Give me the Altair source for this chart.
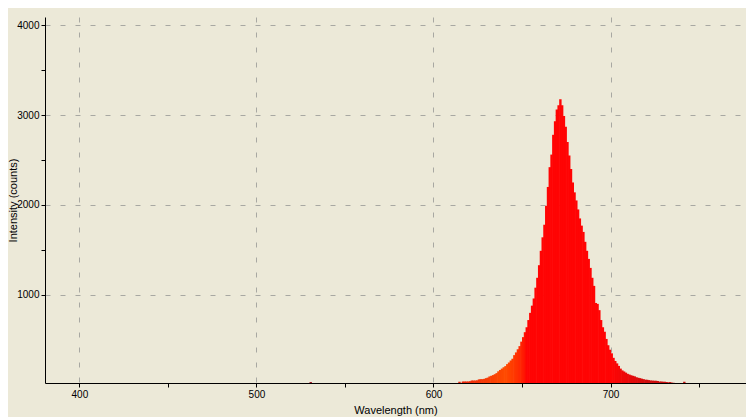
import altair as alt
import pandas as pd

# Wavelength bins (nm, 1 nm wide) and intensities (counts)
wavelength = [530, 612, 613, 614, 615, 616, 617, 618, 619, 620, 621, 622, 623, 624,
              625, 626, 627, 628, 629, 630, 631, 632, 633, 634, 635, 636, 637, 638,
              639, 640, 641, 642, 643, 644, 645, 646, 647, 648, 649, 650, 651, 652,
              653, 654, 655, 656, 657, 658, 659, 660, 661, 662, 663, 664, 665, 666,
              667, 668, 669, 670, 671, 672, 673, 674, 675, 676, 677, 678, 679, 680,
              681, 682, 683, 684, 685, 686, 687, 688, 689, 690, 691, 692, 693, 694,
              695, 696, 697, 698, 699, 700, 701, 702, 703, 704, 705, 706, 707, 708,
              709, 710, 711, 712, 713, 714, 715, 716, 717, 718, 719, 720, 721, 722,
              723, 724, 725, 726, 727, 728, 729, 730, 731, 732, 733, 734, 735, 741]
intensity = [30, 20, 20, 34, 22, 37, 37, 37, 37, 40, 48, 48, 48, 50,
             60, 63, 63, 66, 74, 80, 93, 100, 108, 118, 130, 150, 165, 180,
             195, 208, 230, 248, 270, 290, 330, 360, 395, 430, 480, 530, 585, 640,
             720, 800, 880, 960, 1080, 1190, 1330, 1490, 1640, 1780, 1990, 2200, 2420, 2560,
             2780, 2930, 3060, 3110, 3175, 3110, 2990, 2870, 2700, 2550, 2400, 2250, 2140, 2050,
             1950, 1850, 1770, 1700, 1590, 1490, 1400, 1300, 1190, 1100, 910, 900, 830, 720,
             640, 590, 510, 440, 390, 350, 300, 265, 238, 210, 180, 160, 148, 135,
             122, 114, 106, 100, 94, 84, 78, 74, 68, 63, 57, 56, 52, 48,
             47, 45, 45, 42, 36, 37, 34, 34, 31, 28, 30, 24, 22, 34]

x_ticks = [400, 450, 500, 550, 600, 650, 700, 750]
y_ticks = [1000, 1500, 2000, 2500, 3000, 3500, 4000]

# spectral colouring of the bars
color_stops = [612, 640, 652, 700, 720, 745]
color_values = ["#e8200e", "#ff4a00", "#ff0404", "#ff0404", "#d00e0e", "#c01010"]

df = pd.DataFrame({"wl": wavelength, "counts": intensity})

BG = "#ECE9D8"
GRID = "#a8a8a2"
FONT = "Liberation Sans"

grid_x = {"condition": {"test": "datum.value % 100 === 0", "value": 1}, "value": 0}
grid_y = {"condition": {"test": "datum.value % 1000 === 0", "value": 1}, "value": 0}

chart = (
    alt.Chart(df)
    .transform_calculate(wl_end="datum.wl + 1.35")
    .mark_bar(clip=True)
    .encode(
        x=alt.X(
            "wl:Q",
            scale=alt.Scale(domain=[380.6, 776.5], nice=False, zero=False),
            axis=alt.Axis(
                values=x_ticks,
                format="d",
                labelExpr="datum.value % 100 === 0 ? datum.label : ''",
                title="Wavelength (nm)",
                gridOpacity=grid_x,
            ),
        ),
        x2="wl_end:Q",
        y=alt.Y(
            "counts:Q",
            scale=alt.Scale(domain=[20, 4090], nice=False, zero=False),
            axis=alt.Axis(
                values=y_ticks,
                format="d",
                labelExpr="datum.value % 1000 === 0 ? datum.label : ''",
                title="Intensity (counts)",
                gridOpacity=grid_y,
            ),
        ),
        y2=alt.datum(0),
        color=alt.Color(
            "wl:Q",
            scale=alt.Scale(domain=color_stops, range=color_values),
            legend=None,
        ),
    )
    .properties(
        width=701,
        height=366,
        background=BG,
        padding={"left": 37, "top": 9, "right": 0, "bottom": 34},
        autosize=alt.AutoSizeParams(type="none"),
    )
    .configure_view(stroke=None, fill=BG)
    .configure_axis(
        domainColor="#000000",
        domainWidth=1,
        tickColor="#000000",
        tickSize=4,
        tickWidth=1,
        gridColor=GRID,
        gridDash=[5, 10],
        gridWidth=1,
        labelFont=FONT,
        labelFontSize=10,
        labelColor="#000000",
        labelPadding=2,
        titleFont=FONT,
        titleFontSize=11,
        titleFontWeight="normal",
        titleColor="#000000",
    )
    .configure_axisX(titlePadding=5, labelFlush=False)
    .configure_axisY(titlePadding=-2, labelFlush=False)
)

chart.save("out.html", embed_options={"renderer": "svg", "actions": False})
